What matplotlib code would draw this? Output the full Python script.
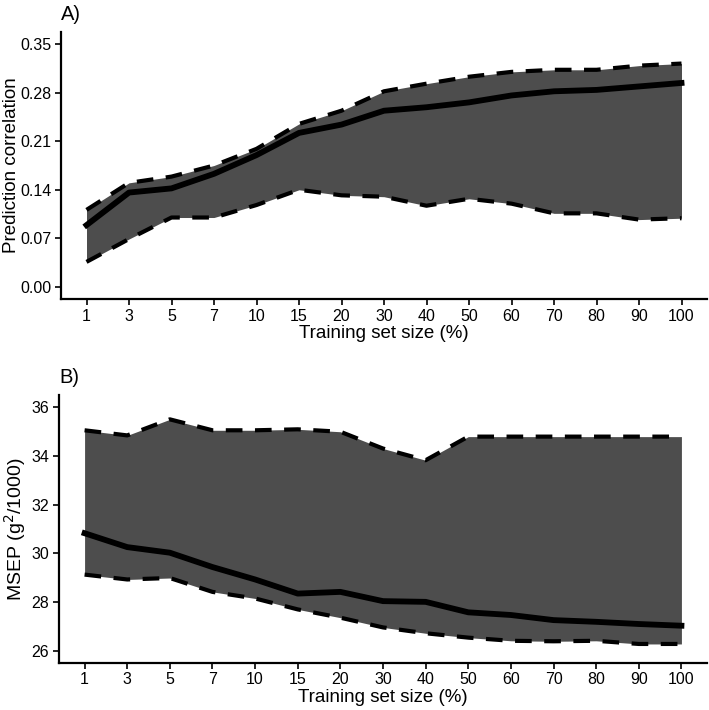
import matplotlib
matplotlib.use("Agg")
import matplotlib.pyplot as plt
import numpy as np

plt.rcParams['font.family'] = ['Liberation Sans', 'DejaVu Sans']

sizes = ["1", "3", "5", "7", "10", "15", "20", "30", "40", "50", "60", "70", "80", "90", "100"]

corr_mean = [0.089, 0.136, 0.142, 0.163, 0.190, 0.222, 0.234, 0.254, 0.259, 0.266, 0.276, 0.282, 0.284, 0.289, 0.294]
corr_upper = [0.111, 0.150, 0.159, 0.175, 0.199, 0.235, 0.254, 0.282, 0.293, 0.303, 0.310, 0.313, 0.313, 0.319, 0.322]
corr_lower = [0.036, 0.069, 0.100, 0.100, 0.118, 0.140, 0.132, 0.130, 0.117, 0.127, 0.120, 0.106, 0.106, 0.097, 0.099]

msep_mean = [30.82, 30.25, 30.02, 29.43, 28.92, 28.34, 28.41, 28.03, 28.00, 27.57, 27.46, 27.25, 27.18, 27.09, 27.02]
msep_upper = [35.05, 34.84, 35.50, 35.05, 35.05, 35.09, 34.99, 34.30, 33.82, 34.79, 34.79, 34.79, 34.79, 34.79, 34.79]
msep_lower = [29.12, 28.92, 28.98, 28.41, 28.14, 27.69, 27.35, 26.95, 26.71, 26.53, 26.40, 26.38, 26.40, 26.27, 26.27]

corr_ticks = [0.00, 0.07, 0.14, 0.21, 0.28, 0.35]
msep_ticks = [26, 28, 30, 32, 34, 36]

fig = plt.figure(figsize=(7.09, 7.10), dpi=100)
axA = fig.add_axes([61/709, 1-299/710, 646/709, 267/710])
axB = fig.add_axes([59/709, 1-662.7/710, 648/709, 267.7/710])

x = np.arange(len(sizes))
fill_c = '#4D4D4D'

def draw(ax, mean, upper, lower, ticks, fmt, ylabel, ylab_size, ylab_x, panel):
    ax.fill_between(x, lower, upper, color=fill_c, linewidth=0)
    ax.plot(x, upper, color='black', lw=3.0, ls=(0, (4, 3)), dash_capstyle='butt')
    ax.plot(x, lower, color='black', lw=3.0, ls=(0, (4, 3)), dash_capstyle='butt')
    ax.plot(x, mean, color='black', lw=4.2)
    lo, hi = ticks[0], ticks[-1]
    pad = (hi - lo) * 0.05
    ax.set_ylim(lo - pad, hi + pad)
    ax.set_xlim(-0.6, len(sizes) - 1 + 0.6)
    ax.set_yticks(ticks)
    ax.set_yticklabels([fmt.format(t) for t in ticks])
    ax.set_xticks(x)
    ax.set_xticklabels(sizes)
    for s in ['top', 'right']:
        ax.spines[s].set_visible(False)
    for s in ['left', 'bottom']:
        ax.spines[s].set_linewidth(1.6)
    ax.tick_params(axis='both', length=4, width=1.2, labelsize=11.5, colors='black', pad=3)
    ax.set_xlabel('Training set size (%)', fontsize=13.5, labelpad=1)
    ax.set_ylabel(ylabel, fontsize=ylab_size, va='center')
    ax.yaxis.set_label_coords(ylab_x, 0.5)
    ax.text(0.0, 1.045, panel, transform=ax.transAxes, fontsize=14.5, ha='left', va='baseline')

draw(axA, corr_mean, corr_upper, corr_lower, corr_ticks, '{:.2f}', 'Prediction correlation', 13.5, (12-61)/646, 'A)')
draw(axB, msep_mean, msep_upper, msep_lower, msep_ticks, '{:d}', 'MSEP (g$^2$/1000)', 14, (15-59)/648, 'B)')

fig.savefig('out.png', dpi=100)
